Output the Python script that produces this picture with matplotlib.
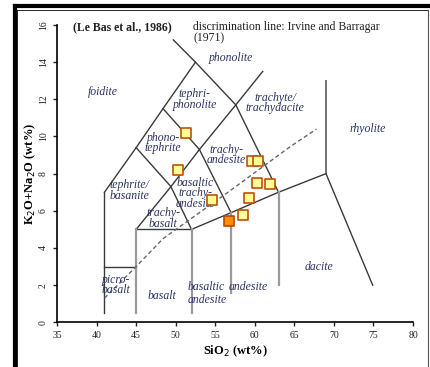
import matplotlib
matplotlib.use("Agg")
import matplotlib.pyplot as plt
from matplotlib.lines import Line2D

plt.rcParams['font.family'] = ['Liberation Serif', 'DejaVu Serif']

# sample data (SiO2, K2O+Na2O)
SIO2 = [51.3, 50.3, 54.6, 59.6, 60.4, 60.3, 61.9, 59.3, 58.5]
ALK = [10.2, 8.2, 6.6, 8.7, 8.7, 7.5, 7.45, 6.7, 5.75]
SIO2_ORANGE = [56.7]
ALK_ORANGE = [5.45]

# TAS boundaries (Le Bas et al., 1986)
DARK_LINES = [
    ([41, 41], [0.5, 7]),
    ([41, 45, 48.4, 52.5, 49.7], [7, 9.4, 11.5, 14, 15.2]),
    ([41, 45], [3, 3]),
    ([45, 52], [5, 5]),
    ([45, 49.4, 53, 57.6, 61], [5, 7.3, 9.3, 11.7, 13.5]),
    ([52, 49.4, 45], [5, 7.3, 9.4]),
    ([48.4, 53, 57], [11.5, 9.3, 5.9]),
    ([52.5, 57.6, 63], [14, 11.7, 7]),
    ([52, 57, 63, 69, 69], [5, 5.9, 7, 8, 13]),
    ([69, 74.9], [8, 2]),
]
GRAY_LINES = [
    ([45, 45], [0.5, 5]),
    ([52, 52], [0.5, 5]),
    ([57, 57], [1.55, 5.9]),
    ([63, 63], [2, 7]),
]
# Irvine & Barragar (1971) line
IB_X = [41, 45, 48.4, 56.45, 64.5, 67.8]
IB_Y = [1.3, 3.0, 4.5, 6.95, 9.46, 10.4]

FIELDS = [
    ("foidite", 40.8, 12.4),
    ("phonolite", 57.0, 14.2),
    ("tephri-\nphonolite", 52.4, 12.0),
    ("trachyte/\ntrachydacite", 62.6, 11.8),
    ("rhyolite", 74.3, 10.4),
    ("phono-\ntephrite", 48.4, 9.65),
    ("trachy-\nandesite", 56.4, 9.0),
    ("tephrite/\nbasanite", 44.2, 7.1),
    ("basaltic\ntrachy-\nandesite", 52.5, 6.95),
    ("trachy-\nbasalt", 48.4, 5.6),
    ("picro-\nbasalt", 42.5, 2.0),
    ("basalt", 48.3, 1.4),
    ("dacite", 68.1, 2.95),
]
# left-aligned labels of the lower andesite fields
FIELDS_LEFT = [
    ("basaltic", 51.5, 1.92),
    ("andesite", 51.5, 1.2),
    ("andesite", 56.7, 1.92),
]

fig = plt.figure(figsize=(4.3, 3.67), dpi=100)
ax = fig.add_axes([0.1326, 0.1218, 0.8279, 0.8101])

for xs, ys in DARK_LINES:
    ax.plot(xs, ys, color='#3a3a3a', lw=1.0)
for xs, ys in GRAY_LINES:
    ax.plot(xs, ys, color='#9a9a9a', lw=1.6)
ax.plot(IB_X, IB_Y, color='#666666', lw=1.0, ls=(0, (3, 2)))

lab_color = '#2c3566'
for txt, x, y in FIELDS:
    ax.text(x, y, txt, ha='center', va='center', style='italic',
            fontsize=8.5, color=lab_color, linespacing=0.85)
for txt, x, y in FIELDS_LEFT:
    ax.text(x, y, txt, ha='left', va='center', style='italic',
            fontsize=8.5, color=lab_color)

ax.scatter(SIO2, ALK, marker='s', s=50, facecolor='#ffff99',
           edgecolor='#c0500a', linewidth=1.2, zorder=5)
ax.scatter(SIO2_ORANGE, ALK_ORANGE, marker='s', s=50, facecolor='#ff8c00',
           edgecolor='#b84400', linewidth=1.2, zorder=5)

ax.text(37.0, 15.9, "(Le Bas et al., 1986)", fontsize=8.5, fontweight='bold',
        ha='left', va='center', color='#222222')
ax.text(52.2, 16.2, "discrimination line: Irvine and Barragar\n(1971)",
        fontsize=8.5, ha='left', va='top', color='#222222', linespacing=0.9)

ax.set_xlim(35, 80)
ax.set_ylim(0, 16)
ax.set_xticks(range(35, 81, 5))
ax.set_yticks(range(0, 17, 2))
ax.tick_params(labelsize=7, length=3, width=1, colors='#222222')
for lab in ax.get_yticklabels():
    lab.set_rotation(90)
    lab.set_va('center')
for sp in ['top', 'right']:
    ax.spines[sp].set_visible(False)
for sp in ['left', 'bottom']:
    ax.spines[sp].set_linewidth(1.2)

ax.set_xlabel("SiO$_2$ (wt%)", fontsize=9, fontweight='bold', labelpad=2)
ax.set_ylabel("K$_2$O+Na$_2$O (wt%)", fontsize=9, fontweight='bold', labelpad=1)

# frame around the figure
fig.add_artist(Line2D([0.035, 0.035], [0.0, 0.984], color='black', lw=3, transform=fig.transFigure))
fig.add_artist(Line2D([0.035, 0.995], [0.984, 0.984], color='black', lw=3, transform=fig.transFigure))
fig.add_artist(Line2D([0.0395, 0.0395], [0.0, 0.972], color='black', lw=0.6, transform=fig.transFigure))
fig.add_artist(Line2D([0.0395, 0.995], [0.972, 0.972], color='black', lw=0.6, transform=fig.transFigure))
fig.add_artist(Line2D([0.995, 0.995], [0.0, 0.972], color='#555555', lw=0.8, transform=fig.transFigure))

fig.savefig("out.png", dpi=100)
